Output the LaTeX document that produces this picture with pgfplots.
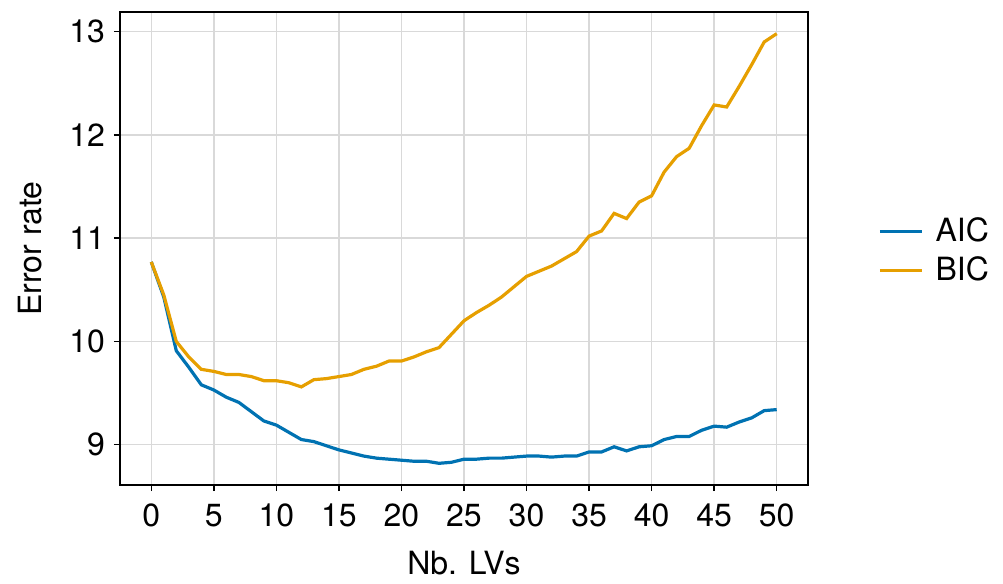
\documentclass[border=0pt]{standalone}
\usepackage{fontspec}
\setmainfont{TeX Gyre Heros}
\usepackage{pgfplots}
\pgfplotsset{compat=1.18}

\definecolor{aiccol}{RGB}{0,114,178}
\definecolor{biccol}{RGB}{230,159,0}

\begin{document}
\begin{tikzpicture}
\begin{axis}[
  at={(0,0)}, anchor=south west,
  scale only axis,
  width=344pt, height=236.5pt,
  xmin=-2.5, xmax=52.5,
  ymin=8.61, ymax=13.19,
  xtick={0,5,...,50},
  ytick={9,10,11,12,13},
  tick pos=left,
  tick align=outside,
  major tick length=3pt,
  tick style={black, line width=0.75pt},
  axis line style={line width=0.9pt},
  grid=major,
  grid style={black!15, line width=0.75pt},
  font=\fontsize{16}{19}\selectfont,
  /pgf/number format/assume math mode=true,
  xticklabel style={yshift=-3pt},
  yticklabel style={xshift=-1pt},
  xlabel={Nb. LVs},
  ylabel={Error rate},
  xlabel style={at={(axis description cs:0.5,-0.165)}, anchor=center},
  ylabel style={at={(axis description cs:-0.1308,0.5)}, anchor=center},
  legend style={draw=none, fill=none, at={(axis description cs:1.093,0.495)}, anchor=west,
    row sep=2pt, font=\fontsize{16}{19}\selectfont,
    /tikz/every odd column/.append style={column sep=4pt}},
  legend cell align=left,
  legend image code/.code={\draw[#1, line width=1.6pt] (0pt,0pt) -- (21pt,0pt);},
]
\addplot[aiccol, line width=1.6pt] coordinates {
(0,10.77) (1,10.43) (2,9.91) (3,9.75) (4,9.58) (5,9.53) (6,9.46) (7,9.41) (8,9.32) (9,9.23)
(10,9.19) (11,9.12) (12,9.05) (13,9.03) (14,8.99) (15,8.95) (16,8.92) (17,8.89) (18,8.87) (19,8.86)
(20,8.85) (21,8.84) (22,8.84) (23,8.82) (24,8.83) (25,8.86) (26,8.86) (27,8.87) (28,8.87) (29,8.88)
(30,8.89) (31,8.89) (32,8.88) (33,8.89) (34,8.89) (35,8.93) (36,8.93) (37,8.98) (38,8.94) (39,8.98)
(40,8.99) (41,9.05) (42,9.08) (43,9.08) (44,9.14) (45,9.18) (46,9.17) (47,9.22) (48,9.26) (49,9.33)
(50,9.34)
};
\addlegendentry{AIC}
\addplot[biccol, line width=1.6pt] coordinates {
(0,10.77) (1,10.45) (2,10.00) (3,9.85) (4,9.73) (5,9.71) (6,9.68) (7,9.68) (8,9.66) (9,9.62)
(10,9.62) (11,9.60) (12,9.56) (13,9.63) (14,9.64) (15,9.66) (16,9.68) (17,9.73) (18,9.76) (19,9.81)
(20,9.81) (21,9.85) (22,9.90) (23,9.94) (24,10.07) (25,10.20) (26,10.28) (27,10.35) (28,10.43) (29,10.53)
(30,10.63) (31,10.68) (32,10.73) (33,10.80) (34,10.87) (35,11.02) (36,11.07) (37,11.24) (38,11.19) (39,11.35)
(40,11.41) (41,11.64) (42,11.79) (43,11.87) (44,12.09) (45,12.29) (46,12.27) (47,12.47) (48,12.68) (49,12.90)
(50,12.98)
};
\addlegendentry{BIC}
\end{axis}
\pgfresetboundingbox
\useasboundingbox (-60pt,-49.5pt) rectangle (441.5pt,242.5pt);
\end{tikzpicture}
\end{document}
